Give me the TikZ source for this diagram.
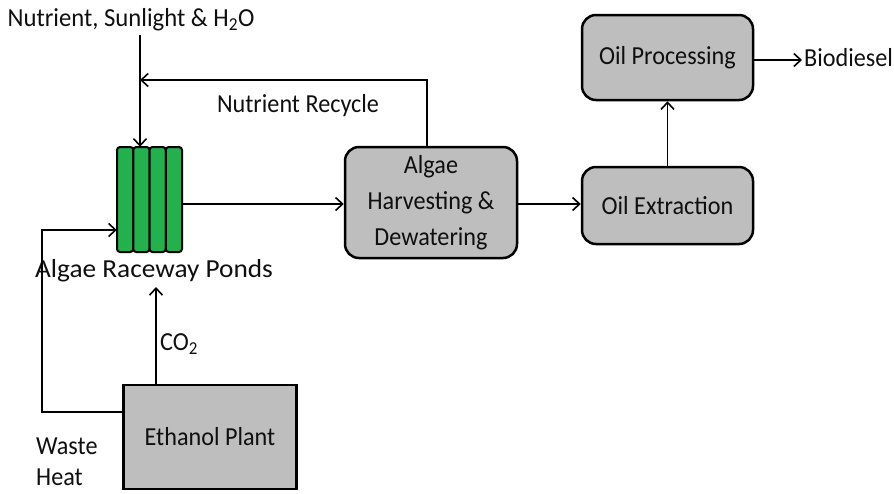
\documentclass[tikz,border=0pt]{standalone}
\usepackage{fontspec}
\setmainfont{Carlito}[FakeStretch=0.93]
\newfontfamily\topfont{Carlito}[FakeStretch=0.95]
\newfontfamily\widefont{Carlito}[FakeStretch=1.05]
\usetikzlibrary{arrows.meta}
\definecolor{boxgray}{RGB}{190,190,190}
\definecolor{pondgreen}{RGB}{34,177,76}
\definecolor{txt}{RGB}{15,15,15}
\tikzset{
  lbl/.style={font=\fontsize{26}{31}\selectfont, text=txt, inner sep=0pt},
  procbox/.style={draw=black, line width=2.5pt, fill=boxgray, rounded corners=14pt, lbl, align=center},
  arr/.style={line width=1.6pt, -{Straight Barb[length=7pt,width=13pt,line width=1.6pt]}},
  pondcol/.style={draw=black, line width=2pt, fill=pondgreen, rounded corners=3pt}
}
\begin{document}
\begin{tikzpicture}[x=1pt,y=-1pt]
\useasboundingbox (0,0) rectangle (894,493);
% texts
\node[lbl, font=\fontsize{26}{31}\topfont] (src) at (131,20) {Nutrient, Sunlight \& H\textsubscript{2}O};
\node[lbl] (recyclbl) at (298,106) {Nutrient Recycle};
\node[lbl, font=\fontsize{26}{31}\widefont] (pondlbl) at (154,271) {Algae Raceway Ponds};
\node[lbl, anchor=west] (co2) at (160,344) {CO\textsubscript{2}};
\node[lbl, anchor=west, align=left] (heat) at (36,462) {Waste\\Heat};
% ponds
\node[minimum width=65pt, minimum height=105pt, inner sep=0pt] (ponds) at (149.5,199.5) {};
\foreach \i in {0,1,2,3}{
  \draw[pondcol] (117+\i*16.25,147) rectangle (133.25+\i*16.25,252);
}
% boxes
\node[procbox, minimum width=172pt, minimum height=111pt] (harv) at (431,202.5) {Algae\\[5pt]Harvesting \&\\[5pt]Dewatering};
\node[procbox, minimum width=171pt, minimum height=77pt] (ext) at (667.5,205.5) {Oil Extraction};
\node[procbox, minimum width=171pt, minimum height=85pt] (proc) at (667.5,57.5) {Oil Processing};
\node[draw=black, line width=2.5pt, fill=boxgray, lbl, minimum width=173pt, minimum height=104pt] (eth) at (210,437) {Ethanol Plant};
\node[lbl, anchor=west] (bio) at (804,58) {Biodiesel};
% coordinates
\coordinate (recyc) at (140,80);
\coordinate (heatcorner) at (42,412);
\coordinate (co2tip) at (156,287);
% connectors
\draw[arr] (src.south -| recyc) ++(0,4) -- (ponds.north -| recyc);
\draw[arr] ([xshift=-4pt]harv.north) |- (recyc);
\draw[arr] (ponds.east |- 0,204) -- (harv.west |- 0,204);
\draw[arr] (harv.east |- 0,204) -- (ext.west |- 0,204);
\draw[arr] (ext.north) -- (proc.south);
\draw[arr] (proc.east |- 0,60) -- ([xshift=-2pt]bio.west |- 0,60);
\draw[arr] (eth.west |- heatcorner) -- (heatcorner) -- (heatcorner |- 0,230) -- (ponds.west |- 0,230);
\draw[arr] (eth.north -| co2tip) -- (co2tip);
\end{tikzpicture}
\end{document}
